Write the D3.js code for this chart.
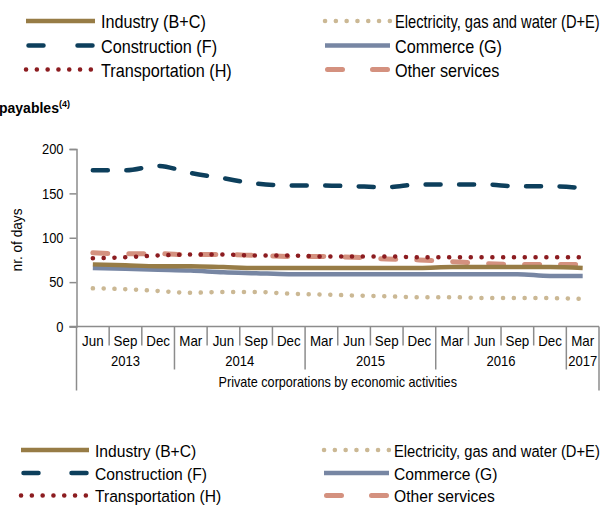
<!DOCTYPE html>
<html>
<head>
<meta charset="utf-8">
<script src="https://cdn.jsdelivr.net/npm/d3@7"></script>
<style>
  html, body { margin: 0; padding: 0; background: #fff; }
  svg { display: block; font-family: "Liberation Sans Narrow", "Arial Narrow", "Liberation Sans", Arial, sans-serif; }
</style>
</head>
<body>
<svg id="chart" width="607" height="506"></svg>
<script>
// Quarterly periods and their year groups
const months = ["Jun","Sep","Dec","Mar","Jun","Sep","Dec","Mar","Jun","Sep","Dec","Mar","Jun","Sep","Dec","Mar"];
const years = [
  { label: "2013", start: 0, end: 3 },
  { label: "2014", start: 3, end: 7 },
  { label: "2015", start: 7, end: 11 },
  { label: "2016", start: 11, end: 15 },
  { label: "2017", start: 15, end: 16 }
];
const yTicks = [0, 50, 100, 150, 200];

// Days payables by activity (nr. of days)
const industry     = [70, 69, 68, 68, 67, 66, 66, 66, 66, 66, 66, 67, 67, 67, 67, 66];
const electricity  = [43, 42, 40, 38, 39, 39, 37, 36, 35, 34, 33, 33, 32, 32, 32, 31];
const construction = [176, 176, 181, 173, 167, 161, 159, 159, 158, 157, 160, 160, 160, 158, 158, 156];
const commerce     = [66, 65, 64, 63, 61, 60, 59, 59, 59, 59, 59, 59, 59, 59, 57, 57];
const transport    = [77, 78, 80, 81, 81, 80, 80, 79, 79, 79, 78, 78, 78, 78, 78, 78];
const otherServ    = [83, 82, 82, 81, 81, 80, 79, 79, 78, 76, 75, 73, 71, 70, 70, 70];

const series = [
  { name: "Industry (B+C)", values: industry, color: "#977c46", dash: null, cap: "butt", width: 4.5 },
  { name: "Electricity, gas and water (D+E)", values: electricity, color: "#cbb894", dash: "0.1,10.7", cap: "round", width: 4.5 },
  { name: "Construction (F)", values: construction, color: "#0d3f5c", dash: "15,18.5", cap: "round", width: 4.5 },
  { name: "Commerce (G)", values: commerce, color: "#7786a3", dash: null, cap: "butt", width: 4.5 },
  { name: "Transportation (H)", values: transport, color: "#8c1c20", dash: "0.1,10.7", cap: "round", width: 4.5 },
  { name: "Other services", values: otherServ, color: "#d4917f", dash: "15,21", cap: "round", width: 5 }
];

const svg = d3.select("#chart");
const plotLeft = 76.5, plotRight = 599, plotTop = 149, plotBottom = 326.5;

const x = d3.scaleBand().domain(d3.range(months.length)).range([plotLeft, plotRight]).padding(0);
const y = d3.scaleLinear().domain([0, 200]).range([plotBottom, plotTop]);
const axisColor = "#8c8c8c";

// Condensed lettering: squeeze each label horizontally by factor k
function condense(sel, k) {
  sel.each(function () {
    const len = this.getComputedTextLength();
    this.setAttribute("textLength", len * k);
    this.setAttribute("lengthAdjust", "spacingAndGlyphs");
  });
}

// Title
const title = svg.append("text").attr("x", -1).attr("y", 113)
  .attr("font-family", "Liberation Sans, Arial, sans-serif")
  .attr("font-weight", "bold").attr("font-size", 14).attr("fill", "#000");
title.append("tspan").text("payables");
title.append("tspan").attr("dy", -6).attr("font-size", 9).text("(4)");

// Y axis
const yAxis = svg.append("g").attr("transform", `translate(${plotLeft},0)`)
  .call(d3.axisLeft(y).tickValues(yTicks).tickSize(7).tickPadding(6));
yAxis.select(".domain").attr("stroke", axisColor).attr("stroke-width", 1.5);
yAxis.selectAll(".tick line").attr("stroke", axisColor).attr("stroke-width", 1.5);
yAxis.selectAll(".tick text").attr("font-size", 15).attr("fill", "#000")
  .attr("font-family", null);
condense(yAxis.selectAll(".tick text"), 0.86);

const yLabel = svg.append("text")
  .attr("transform", `translate(22,240) rotate(-90)`)
  .attr("text-anchor", "middle").attr("font-size", 15.5).attr("fill", "#000")
  .text("nr. of days");
condense(yLabel, 0.88);

// X axis: baseline plus multi-level category separators
const xg = svg.append("g");
xg.append("line").attr("x1", plotLeft - 7).attr("x2", plotRight).attr("y1", plotBottom).attr("y2", plotBottom)
  .attr("stroke", axisColor).attr("stroke-width", 1.5);

const yearBounds = new Set(years.map(d => d.start).concat([months.length]));
d3.range(months.length + 1).forEach(i => {
  const xp = i < months.length ? x(i) : x.range()[1];
  let y2 = plotBottom + 19;
  if (yearBounds.has(i)) y2 = plotBottom + 43;
  if (i === 0 || i === months.length) y2 = plotBottom + 64;
  xg.append("line").attr("x1", xp).attr("x2", xp).attr("y1", plotBottom).attr("y2", y2)
    .attr("stroke", axisColor).attr("stroke-width", 1.5);
});

const monthText = xg.selectAll("text.month").data(months).join("text").attr("class", "month")
  .attr("x", (d, i) => x(i) + x.bandwidth() / 2).attr("y", plotBottom + 19.5)
  .attr("text-anchor", "middle").attr("font-size", 14.5).attr("fill", "#000").text(d => d);
condense(monthText, 0.92);

const yearText = xg.selectAll("text.year").data(years).join("text").attr("class", "year")
  .attr("x", d => (x(d.start) + (d.end < months.length ? x(d.end) : plotRight)) / 2)
  .attr("y", plotBottom + 39).attr("text-anchor", "middle").attr("font-size", 14.5).attr("fill", "#000")
  .text(d => d.label);
condense(yearText, 0.9);

const catTitle = xg.append("text").attr("x", (plotLeft + plotRight) / 2).attr("y", plotBottom + 60)
  .attr("text-anchor", "middle").attr("font-size", 14.5).attr("fill", "#000")
  .text("Private corporations by economic activities");
condense(catTitle, 0.87);

// Lines
const line = d3.line().x((d, i) => x(i) + x.bandwidth() / 2).y(d => y(d)).curve(d3.curveMonotoneX);
const drawOrder = ["Construction (F)", "Other services", "Transportation (H)", "Commerce (G)", "Industry (B+C)", "Electricity, gas and water (D+E)"];
drawOrder.forEach(n => {
  const s = series.find(d => d.name === n);
  svg.append("path").datum(s.values).attr("d", line)
    .attr("fill", "none").attr("stroke", s.color).attr("stroke-width", s.width)
    .attr("stroke-linecap", s.cap).attr("stroke-linejoin", "round")
    .attr("stroke-dasharray", s.dash);
});

// Legends (drawn above and below the chart)
function legend(rows, cols, fontSize, k) {
  series.forEach((s, i) => {
    const col = cols[i % 2], row = Math.floor(i / 2);
    const yy = rows[row];
    const g = svg.append("g");
    let x1 = col.sx, x2 = col.ex;
    let dash = s.dash;
    if (s.dash && s.dash[0] !== "0") {
      // two dashes in the key
      x1 = col.sx + 2.5; x2 = col.ex - 2.5;
      const seg = 15, gap = (x2 - x1) - 2 * seg;
      dash = `${seg},${gap}`;
    }
    g.append("line").attr("x1", x1).attr("x2", x2).attr("y1", yy - 1).attr("y2", yy - 1)
      .attr("stroke", s.color).attr("stroke-width", s.width)
      .attr("stroke-linecap", s.cap).attr("stroke-dasharray", dash);
    const t = g.append("text").attr("dy", "0.35em")
      .attr("font-size", fontSize).attr("fill", "#000").text(s.name);
    // squeeze horizontally; a long key text is squeezed further to stay inside the edge
    const avail = 600 - col.tx;
    const natural = t.node().getComputedTextLength();
    const sx = Math.min(k, avail / natural);
    t.attr("transform", `translate(${col.tx},${yy}) scale(${sx},1)`);
  });
}
legend([22, 46.5, 70.5],
  [{ sx: 26, ex: 95, tx: 101 }, { sx: 325, ex: 390, tx: 395 }], 18, 0.9);
legend([451, 474, 496.5],
  [{ sx: 21, ex: 89, tx: 95 }, { sx: 324, ex: 389, tx: 394 }], 17, 0.92);
</script>
</body>
</html>
